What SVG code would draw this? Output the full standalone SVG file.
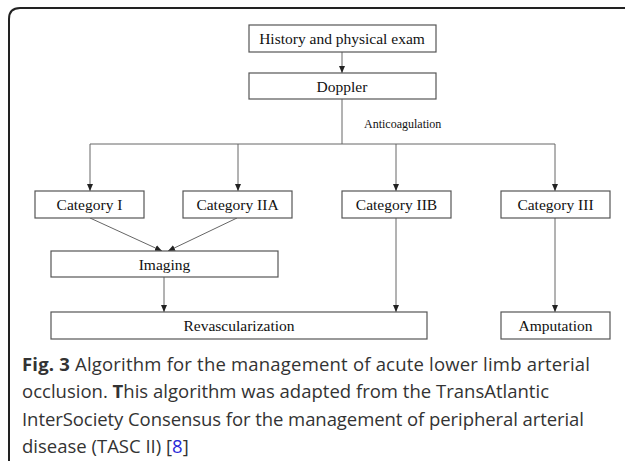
<svg xmlns="http://www.w3.org/2000/svg" width="625" height="461" viewBox="0 0 625 461">
<defs>
<marker id="ah" markerWidth="8" markerHeight="8" refX="7" refY="3.5" orient="auto" markerUnits="userSpaceOnUse">
<path d="M0,0.5 L7,3.5 L0,6.5 Z" fill="#222"/>
</marker>
<style>
.box{fill:#fff;stroke:#555;stroke-width:1.2}
.lbl{font-family:"Liberation Serif","Times New Roman",serif;font-size:15.5px;fill:#111;text-anchor:middle}
.con{stroke:#666;stroke-width:1;fill:none}
.arr{stroke:#666;stroke-width:1;fill:none;marker-end:url(#ah)}
.cap{font-family:"Open Sans","Noto Sans",sans-serif;font-size:18.5px;fill:#333}
</style>
</defs>
<rect width="625" height="461" fill="#fff"/>
<path d="M9,461 L9,19 Q9,8 20,8 L625,8" fill="none" stroke="#222" stroke-width="2"/>

<g id="connectors">
<line class="arr" x1="342" y1="52" x2="342" y2="73"/>
<line class="con" x1="342" y1="99" x2="342" y2="144"/>
<line class="con" x1="90" y1="144" x2="555" y2="144"/>
<line class="arr" x1="90" y1="144" x2="90" y2="191"/>
<line class="arr" x1="238" y1="144" x2="238" y2="191"/>
<line class="arr" x1="396" y1="144" x2="396" y2="191"/>
<line class="arr" x1="555" y1="144" x2="555" y2="191"/>
<line class="arr" x1="90" y1="218" x2="162" y2="251"/>
<line class="arr" x1="237" y1="218" x2="168" y2="251"/>
<line class="arr" x1="164" y1="277" x2="164" y2="312"/>
<line class="arr" x1="396" y1="218" x2="396" y2="312"/>
<line class="arr" x1="555" y1="218" x2="555" y2="312"/>
<text x="364" y="128" style="font-family:'Liberation Serif','Times New Roman',serif;font-size:12px;fill:#111">Anticoagulation</text>
</g>

<g id="history"><rect class="box" x="249" y="25" width="187" height="27"/><text class="lbl" x="342" y="44">History and physical exam</text></g>
<g id="doppler"><rect class="box" x="249" y="73" width="187" height="26"/><text class="lbl" x="342" y="91.5">Doppler</text></g>
<g id="cat1"><rect class="box" x="35" y="191" width="109" height="27"/><text class="lbl" x="89.5" y="209.5">Category I</text></g>
<g id="cat2a"><rect class="box" x="183" y="191" width="109" height="27"/><text class="lbl" x="237.5" y="209.5">Category IIA</text></g>
<g id="cat2b"><rect class="box" x="342" y="191" width="109" height="27"/><text class="lbl" x="396.5" y="209.5">Category IIB</text></g>
<g id="cat3"><rect class="box" x="501" y="191" width="109" height="27"/><text class="lbl" x="555.5" y="209.5">Category III</text></g>
<g id="imaging"><rect class="box" x="51" y="251" width="227" height="26"/><text class="lbl" x="164.5" y="269.5">Imaging</text></g>
<g id="revasc"><rect class="box" x="51" y="312" width="376" height="27"/><text class="lbl" x="239" y="330.5">Revascularization</text></g>
<g id="amputation"><rect class="box" x="501" y="312" width="109" height="27"/><text class="lbl" x="555.5" y="330.5">Amputation</text></g>

<g id="caption">
<text class="cap" x="22" y="371" textLength="568" lengthAdjust="spacing"><tspan font-weight="bold">Fig. 3</tspan> Algorithm for the management of acute lower limb arterial</text>
<text class="cap" x="22" y="398" textLength="527" lengthAdjust="spacing">occlusion. <tspan font-weight="bold">T</tspan>his algorithm was adapted from the TransAtlantic</text>
<text class="cap" x="22" y="426" textLength="562" lengthAdjust="spacing">InterSociety Consensus for the management of peripheral arterial</text>
<text class="cap" x="22" y="453">disease (TASC II) [<tspan fill="#2a2ad8">8</tspan>]</text>
</g>
</svg>
